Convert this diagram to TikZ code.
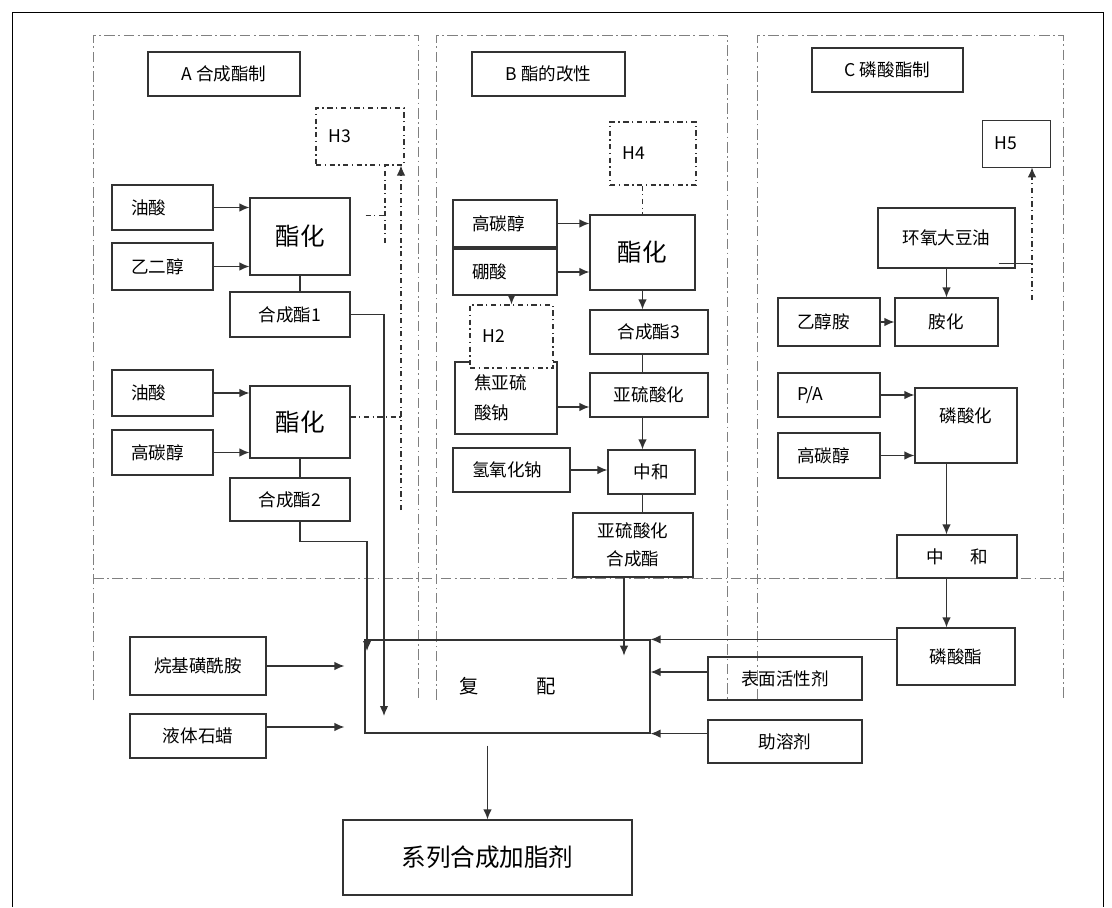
\documentclass[tikz,border=0pt]{standalone}
\usepackage{fontspec}
\usepackage{tikz}
\usetikzlibrary{arrows.meta,positioning,calc}
\newfontfamily\cjk{Noto Sans CJK SC}
\definecolor{LineGray}{HTML}{333333}
\definecolor{FrameGray}{HTML}{808080}
\tikzset{
  box/.style={draw=LineGray, line width=0.7pt, inner sep=1pt, align=center, font=\cjk\fontsize{10}{12}\selectfont},
  inbox/.style={box, align=left, text width=#1, inner xsep=0.38cm},
  hbox/.style={box, dash dot, align=left, text width=#1, inner xsep=0.25cm},
  bigbox/.style={box, font=\cjk\fontsize{14}{16}\selectfont},
  arr/.style={line width=0.7pt, LineGray, -{Latex[length=2mm,width=1.7mm]}},
  conn/.style={line width=0.7pt, LineGray},
  dashconn/.style={line width=0.6pt, LineGray, dash dot},
  panel/.style={line width=0.5pt, FrameGray, dash pattern=on 6pt off 2pt on 1pt off 2pt}
}
\begin{document}
\begin{tikzpicture}[x=0.02cm, y=-0.02cm]
  \useasboundingbox (0,0) rectangle (1112,907);
  \draw[line width=0.5pt] (12,907) -- (12,12) -- (1103,12) -- (1103,907);
  % panels
  \draw[panel] (93,700) -- (93,35) -- (418,35) -- (418,700);
  \draw[panel] (436,700) -- (436,35) -- (727,35) -- (727,700);
  \draw[panel] (757,700) -- (757,35) -- (1063,35) -- (1063,700);
  \draw[panel] (93,578) -- (1063,578);

  % A
  \node[box, minimum width=3.04cm, minimum height=0.88cm] (titA) at (224,74) {A\ 合成酯制};
  \node[hbox=1.26cm, minimum height=1.14cm] (H3) at (360,136.5) {H3};
  \node[inbox=1.26cm, minimum height=0.9cm] (ys1) at (162.5,207.5) {油酸};
  \node[inbox=1.26cm, minimum height=0.94cm] (yec) at (162.5,266.5) {乙二醇};
  \node[bigbox, minimum width=2cm, minimum height=1.54cm] (zh1) at (300,236.5) {酯化};
  \node[box, minimum width=2.4cm, minimum height=0.9cm] (hc1) at (290,314.5) {合成酯1};
  \node[inbox=1.26cm, minimum height=0.92cm] (ys2) at (162.5,393) {油酸};
  \node[inbox=1.26cm, minimum height=0.9cm] (gt1) at (162.5,452.5) {高碳醇};
  \node[bigbox, minimum width=2cm, minimum height=1.44cm] (zh2) at (300,422) {酯化};
  \node[box, minimum width=2.4cm, minimum height=0.86cm] (hc2) at (290,499.5) {合成酯2};

  % B
  \node[box, minimum width=3.06cm, minimum height=0.88cm] (titB) at (548.5,74) {B\ 酯的改性};
  \node[hbox=1.22cm, minimum height=1.26cm] (H4) at (653,153.5) {H4};
  \node[inbox=1.32cm, minimum height=0.94cm] (gt2) at (505,223.5) {高碳醇};
  \node[inbox=1.32cm, minimum height=0.92cm] (ps) at (505,272) {硼酸};
  \node[bigbox, minimum width=2.1cm, minimum height=1.5cm] (zh3) at (642.5,252.5) {酯化};
  \node[inbox=1.28cm, minimum height=1.44cm, font=\cjk\fontsize{10}{17}\selectfont] (jy) at (506,398) {焦亚硫\\酸钠};
  \node[hbox=1.16cm, fill=white, minimum height=1.26cm] (H2) at (511.5,336.5) {H2};
  \node[box, minimum width=2.36cm, minimum height=0.88cm] (hc3) at (649,332) {合成酯3};
  \node[box, minimum width=2.36cm, minimum height=0.88cm] (ya) at (649,395) {亚硫酸化};
  \node[box, minimum width=1.74cm, minimum height=0.88cm] (zhg1) at (651.5,472) {中和};
  \node[inbox=1.58cm, minimum height=0.88cm] (na) at (511.5,470) {氢氧化钠};
  \node[box, minimum width=2.4cm, minimum height=1.28cm, font=\cjk\fontsize{10}{16}\selectfont] (yh) at (633,545) {亚硫酸化\\合成酯};

  % C
  \node[box, minimum width=3.02cm, minimum height=0.88cm] (titC) at (887.5,70) {C\ 磷酸酯制};
  \node[box, line width=0.5pt, align=left, text width=0.86cm, inner xsep=0.25cm, minimum height=0.94cm] (H5) at (1016,143.5) {H5};
  \node[box, minimum width=2.74cm, minimum height=1.2cm] (hy) at (946.5,238) {环氧大豆油};
  \node[box, minimum width=2.06cm, minimum height=0.96cm] (ah) at (946.5,322) {胺化};
  \node[inbox=1.28cm, minimum height=0.96cm] (yc) at (829,322) {乙醇胺};
  \node[inbox=1.28cm, minimum height=0.88cm] (pa) at (829,395) {P/A};
  \node[inbox=1.28cm, minimum height=0.9cm] (gt3) at (829,455.5) {高碳醇};
  \node[box, minimum width=2.04cm, minimum height=1.5cm] (lh) at (966,425.5) {磷酸化\\ \mbox{}};
  \node[box, minimum width=2.4cm, minimum height=0.86cm] (zhg2) at (957,556.5) {中\hspace{1.5em}和};
  \node[box, minimum width=2.36cm, minimum height=1.14cm] (ls) at (956,656.5) {磷酸酯};

  % bottom
  \node[box, minimum width=2.72cm, minimum height=1.16cm] (ak) at (198,666) {烷基磺酰胺};
  \node[box, minimum width=2.72cm, minimum height=0.88cm] (yt) at (198,736) {液体石蜡};
  \node[box, minimum width=5.7cm, minimum height=1.86cm, font=\cjk\fontsize{11}{13}\selectfont] (fp) at (507.5,686.5) {复\hspace{3em}配};
  \node[box, minimum width=3.08cm, minimum height=0.86cm] (bm) at (785,678.5) {表面活性剂};
  \node[box, minimum width=3.08cm, minimum height=0.86cm] (zr) at (785,741.5) {助溶剂};
  \node[box, minimum width=5.78cm, minimum height=1.5cm, font=\cjk\fontsize{14}{16}\selectfont] (cp) at (487.5,857.5) {系列合成加脂剂};

  % A connectors
  \draw[arr] (ys1.east) -- (ys1.east -| zh1.west);
  \draw[arr] (yec.east) -- (yec.east -| zh1.west);
  \draw[conn] (zh1.south) -- (zh1.south |- hc1.north);
  \draw[arr] (ys2.east) -- (ys2.east -| zh2.west);
  \draw[arr] (gt1.east) -- (gt1.east -| zh2.west);
  \draw[conn] (zh2.south) -- (zh2.south |- hc2.north);
  \coordinate (k1) at (385,243);
  \draw[dashconn] ([xshift=0.3cm,yshift=0.42cm]zh1.east) -- ([yshift=0.42cm]zh1.east -| k1);
  \draw[dashconn] (k1) -- (k1 |- H3.south);
  \coordinate (k2) at (401,510);
  \draw[dashconn] ([yshift=0.1cm]zh2.east) -- ([yshift=0.1cm]zh2.east -| k2);
  \draw[dashconn, -{Latex[length=2mm,width=1.7mm]}] (k2) -- (k2 |- H3.south);
  \coordinate (j1) at (384,716);
  \draw[arr] (hc1.east) -| (j1);
  \coordinate (j2) at (367,651);
  \draw[arr] (hc2.south -| zh2.south) -- ++(0,20) -| (j2);

  % B connectors
  \draw[arr] (gt2.east) -- (gt2.east -| zh3.west);
  \draw[arr] (ps.east) -- (ps.east -| zh3.west);
  \draw[dashconn] (H4.south -| zh3.north) -- (zh3.north);
  \draw[arr] (zh3.south) -- (zh3.south |- hc3.north);
  \draw[arr] (ps.south -| H2.north) -- (H2.north);
  \draw[conn] (hc3.south -| zh3.south) -- (ya.north -| zh3.south);
  \draw[arr] ([yshift=-0.18cm]jy.east) -- ([yshift=-0.18cm]jy.east -| ya.west);
  \draw[arr] (ya.south -| zh3.south) -- (zhg1.north -| zh3.south);
  \draw[arr] (na.east) -- (na.east -| zhg1.west);
  \draw[conn] (zhg1.south -| zh3.south) -- (yh.north -| zh3.south);
  \draw[arr] ([xshift=-0.18cm]yh.south) -- ++(0,78);

  % C connectors
  \draw[arr] (hy.south) -- (ah.north);
  \draw[arr] (yc.east) -- (ah.west);
  \draw[arr] (pa.east) -- (pa.east -| lh.west);
  \draw[arr] (gt3.east) -- (gt3.east -| lh.west);
  \draw[arr] (lh.south -| ah.south) -- (zhg2.north -| ah.south);
  \draw[arr] (zhg2.south -| ah.south) -- (ls.north -| ah.south);
  \coordinate (k3) at (1032,300);
  \draw[conn] ([xshift=-0.34cm,yshift=0.1cm]hy.south east) -- ([yshift=0.1cm]hy.south east -| k3);
  \draw[dashconn, -{Latex[length=2mm,width=1.7mm]}] (k3) -- (k3 |- H5.south);

  % bottom connectors
  \draw[arr] (ls.west |- fp.north) -- (fp.north east);
  \draw[arr] ([yshift=0.13cm]bm.west) -- ([yshift=0.13cm]bm.west -| fp.east);
  \draw[arr] (zr.west |- fp.south) -- (fp.south east);
  \draw[arr, shorten >=0.4cm] (ak.east) -- (ak.east -| fp.west);
  \draw[arr, shorten >=0.4cm] ([yshift=0.18cm]yt.east) -- ([yshift=0.18cm]yt.east -| fp.west);
  \draw[arr, shorten <=0.24cm] (fp.south -| cp.north) -- (cp.north);
\end{tikzpicture}
\end{document}
